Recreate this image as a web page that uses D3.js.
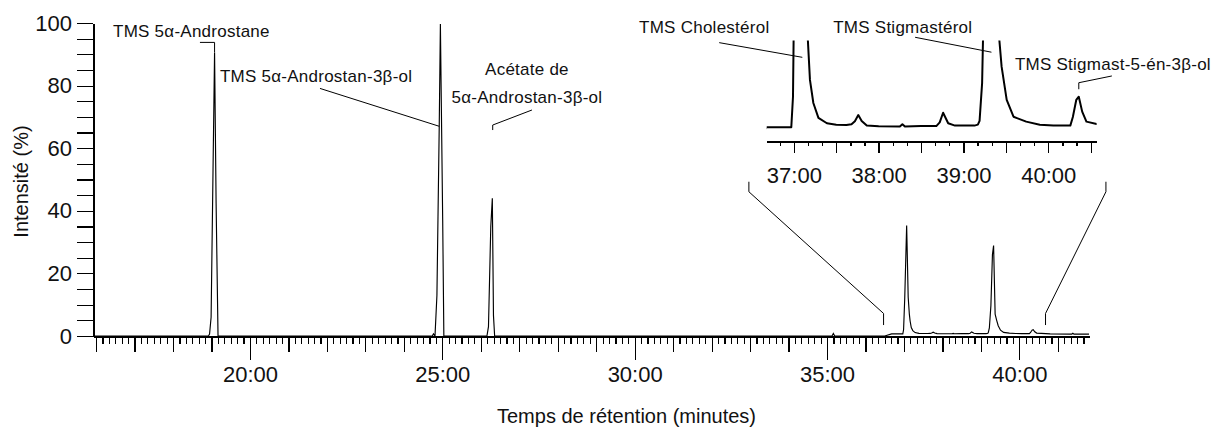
<!DOCTYPE html>
<html>
<head>
<meta charset="utf-8">
<script src="https://cdn.jsdelivr.net/npm/d3@7"></script>
<style>
  body { margin: 0; background: #fff; }
  svg { display: block; font-family: "Liberation Sans", Arial, sans-serif; }
  .axis path, .axis line { stroke: #000; }
  .axis text { fill: #111; }
</style>
</head>
<body>
<svg id="chart" width="1212" height="427"></svg>
<script>
// Retention time (minutes) of each recorded point of the chromatogram
const retentionTime = [
  15.92, 18.92, 18.95, 18.99, 19.04, 19.08, 19.12, 19.17,
  24.74, 24.77, 24.81, 24.86, 24.92, 24.95, 25.01, 25.04,
  26.16, 26.20, 26.26, 26.30, 26.33, 26.36,
  35.13, 35.165, 35.20,
  36.50, 36.68, 36.97, 36.99, 37.02, 37.07, 37.11, 37.14, 37.16, 37.19,
  37.23, 37.29, 37.39, 37.50, 37.62, 37.68, 37.72, 37.76, 37.80, 37.86,
  38.00, 38.25, 38.28, 38.31, 38.50, 38.68, 38.72, 38.76, 38.82, 38.90,
  39.13, 39.17, 39.19, 39.22, 39.26, 39.30, 39.33, 39.37, 39.41, 39.45,
  39.51, 39.59, 39.74, 39.90, 40.06, 40.26, 40.29, 40.33, 40.36, 40.40,
  40.45, 40.57, 40.80, 41.36, 41.39, 41.42, 41.81
];
// Relative intensity (%) at each retention time
const intensity = [
  0, 0, 0.6, 6, 53, 90.6, 42.4, 0,
  0, 0.7, 0, 13, 67, 99.7, 37, 0,
  0, 3, 35, 44, 6.5, 0,
  0, 0.8, 0,
  0, 0.69, 0.69, 2.0, 12, 35.3, 12.4, 7, 4.8, 2.72,
  1.73, 1.09, 0.86, 0.8, 0.79, 0.82, 0.95, 1.21, 0.96, 0.76,
  0.73, 0.72, 0.82, 0.72, 0.74, 0.74, 0.9, 1.31, 0.86, 0.76,
  0.76, 0.8, 0.96, 2.58, 9.7, 26, 28.9, 7, 5, 3.29,
  1.86, 1.14, 0.93, 0.8, 0.76, 0.76, 1.13, 1.86, 2.0, 1.36,
  0.93, 0.83, 0.7, 0.6, 0.9, 0.6, 0.6
];

const yTickValues = [0, 20, 40, 60, 80, 100];
const xLabelMinutes = [20, 25, 30, 35, 40];
const insetLabelMinutes = [37, 38, 39, 40];
const zoomWindow = [36.47, 40.68];

// Peak labels on the full chromatogram (time, intensity %)
const mainLabels = [
  { lines: ["TMS 5α-Androstane"], at: [16.44, 95.5], anchor: "start",
    leader: [[18.70, 93.8], [19.08, 93.8], [19.08, 90.6]] },
  { lines: ["TMS 5α-Androstan-3β-ol"], at: [19.22, 81.3], anchor: "start",
    leader: [[21.82, 79.1], [24.92, 67]] },
  { lines: ["Acétate de", "5α-Androstan-3β-ol"], at: [27.2, 83.4], anchor: "middle",
    leader: [[27.33, 72.2], [26.31, 67.4], [26.31, 65.8]] }
];
// Peak labels on the enlarged window (time, intensity %)
const insetLabels = [
  { lines: ["TMS Cholestérol"], at: [35.175, 4.72], anchor: "start",
    leader: [[36.12, 4.32], [37.10, 3.69]] },
  { lines: ["TMS Stigmastérol"], at: [37.464, 4.72], anchor: "start",
    leader: [[38.43, 4.55], [39.33, 3.91]] },
  { lines: ["TMS Stigmast-5-én-3β-ol"], at: [39.607, 3.146], anchor: "start",
    leader: [[40.75, 2.89], [40.36, 2.60], [40.36, 2.32]] }
];

const svg = d3.select("#chart");
const trace = retentionTime.map((t, i) => [t, intensity[i]]);

// Full chromatogram scales
const x = d3.scaleLinear().domain([15.92, 41.81]).range([93, 1089]);
const y = d3.scaleLinear().domain([0, 100]).range([336, 23]);
// Enlarged window scales
const xi = d3.scaleLinear().domain([36.68, 40.57]).range([766.7, 1096.6]);
const yi = d3.scaleLinear().domain([0, 4]).range([143.3, 50.1]);

const fmt = m => `${Math.round(m)}:00`;

// ---- Y axis
const yAxis = d3.axisLeft(y)
  .tickValues(d3.range(0, 101, 5))
  .tickSize(16).tickSizeOuter(0).tickPadding(5)
  .tickFormat(d => yTickValues.includes(d) ? d : "");
const gy = svg.append("g").attr("class", "axis")
  .attr("transform", `translate(${x.range()[0]},0)`)
  .call(yAxis);
gy.select(".domain").attr("stroke-width", 2);
gy.selectAll(".tick line").attr("stroke-width", 1.2);
gy.selectAll("text").attr("font-size", 22);
gy.attr("shape-rendering", "crispEdges");

// ---- X axis (ticks every 10 s)
const xTicks = d3.range(96, 251).map(k => k / 6);
const xAxis = d3.axisBottom(x)
  .tickValues(xTicks).tickSize(8).tickSizeOuter(0)
  .tickFormat(d => xLabelMinutes.some(m => Math.abs(m - d) < 1e-6) ? fmt(d) : "");
const gx = svg.append("g").attr("class", "axis")
  .attr("transform", `translate(0,${y(0)})`)
  .call(xAxis);
gx.select(".domain").attr("stroke-width", 2);
gx.selectAll(".tick line")
  .attr("stroke-width", 1.2)
  .attr("y2", d => {
    const k = Math.round(d * 6);
    return k % 30 === 0 ? 24 : (k % 6 === 0 ? 16 : 8);
  });
gx.selectAll("text").attr("font-size", 22).attr("y", 45.7).attr("dy", 0);
gx.attr("shape-rendering", "crispEdges");

// ---- Axis titles
svg.append("text")
  .attr("transform", "translate(28,181.5) rotate(-90)")
  .attr("text-anchor", "middle")
  .attr("font-size", 20).attr("fill", "#111")
  .text("Intensité (%)");
svg.append("text")
  .attr("x", 626.5).attr("y", 423)
  .attr("text-anchor", "middle")
  .attr("font-size", 20).attr("fill", "#111")
  .text("Temps de rétention (minutes)");

// ---- Chromatogram trace
svg.append("path")
  .datum(trace)
  .attr("fill", "none").attr("stroke", "#000").attr("stroke-width", 1.15)
  .attr("d", d3.line().x(d => x(d[0])).y(d => y(d[1])));

// ---- Enlarged window
svg.append("clipPath").attr("id", "insetClip")
  .append("rect")
  .attr("x", xi.range()[0]).attr("y", 40.5)
  .attr("width", xi.range()[1] - xi.range()[0]).attr("height", 100);

svg.append("path")
  .datum(trace.filter(d => d[0] >= 36.4 && d[0] <= 40.9))
  .attr("clip-path", "url(#insetClip)")
  .attr("fill", "none").attr("stroke", "#000").attr("stroke-width", 2)
  .attr("stroke-linejoin", "round")
  .attr("d", d3.line().x(d => xi(d[0])).y(d => yi(d[1])));

const insetY = 141.7;
const insetTicks = d3.range(221, 244).map(k => k / 6);
const insetAxis = d3.axisBottom(xi)
  .tickValues(insetTicks).tickSize(4).tickSizeOuter(0)
  .tickFormat(d => insetLabelMinutes.some(m => Math.abs(m - d) < 1e-6) ? fmt(d) : "");
const gi = svg.append("g").attr("class", "axis")
  .attr("transform", `translate(0,${insetY})`)
  .call(insetAxis);
gi.select(".domain").attr("stroke-width", 2);
gi.selectAll(".tick line")
  .attr("stroke-width", 1.3)
  .attr("y2", d => Math.round(d * 6) % 3 === 0 ? 11.6 : 4);
gi.selectAll("text").attr("font-size", 22).attr("y", 41.6).attr("dy", 0);
gi.attr("shape-rendering", "crispEdges");

// ---- Connectors between the full trace and the enlarged window
const line = d3.line();
zoomWindow.forEach(t => {
  svg.append("path")
    .attr("fill", "none").attr("stroke", "#000").attr("stroke-width", 1)
    .attr("d", line([
      [x(t), y(3.5)], [x(t), y(7.2)],
      [xi(t), yi(-2.08)], [xi(t), yi(-1.65)]
    ]));
});

// ---- Peak labels and leaders
function drawLabels(labels, sx, sy) {
  labels.forEach(l => {
    const txt = svg.append("text")
      .attr("font-size", 17).attr("fill", "#111")
      .attr("letter-spacing", 0.25)
      .attr("text-anchor", l.anchor);
    l.lines.forEach((s, i) => {
      txt.append("tspan")
        .attr("x", sx(l.at[0]))
        .attr("y", sy(l.at[1]) + i * 27.7)
        .text(s);
    });
    svg.append("path")
      .attr("fill", "none").attr("stroke", "#000").attr("stroke-width", 1)
      .attr("d", line(l.leader.map(p => [sx(p[0]), sy(p[1])])));
  });
}
drawLabels(mainLabels, x, y);
drawLabels(insetLabels, xi, yi);
</script>
</body>
</html>
